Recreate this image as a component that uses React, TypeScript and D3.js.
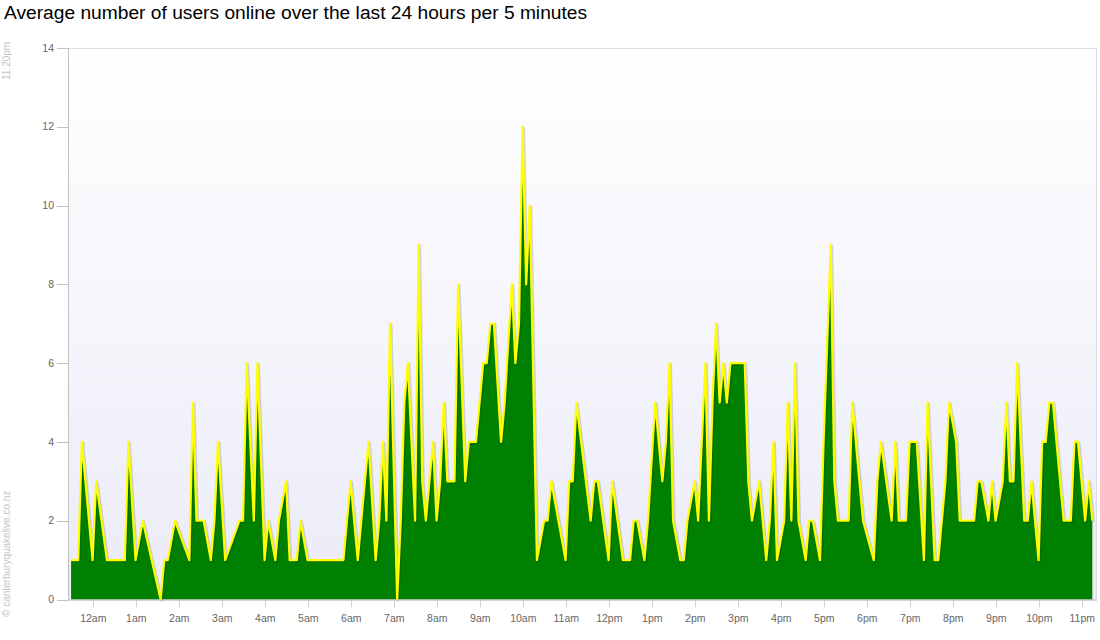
import React from 'react';
import * as d3 from 'd3';

const chartTitle = 'Average number of users online over the last 24 hours per 5 minutes';
const stampLabel = '11:20pm';
const creditLabel = '© canterburyquakelive.co.nz';

// first sample at 11:29pm the previous day (minutes relative to midnight)
const firstSampleMinute = -31;
const slotMinutes = 5;

// 5-minute slot index of each vertex of the series
const slots = [
  0, 2, 3, 6, 7, 10, 15, 16, 18, 20, 25, 26, 27, 29, 33, 34, 35, 37, 39, 40,
  41, 43, 47, 48, 49, 51, 52, 54, 55, 57, 58, 60, 61, 63, 64, 66, 76, 77, 78, 80,
  81, 83, 85, 86, 87, 88, 89, 91, 92, 93, 94, 96, 97, 98, 99, 101, 102, 103, 104, 105,
  107, 108, 110, 111, 113, 114, 115, 116, 117, 118, 120, 121, 123, 124, 125, 126, 127, 128, 130, 132,
  133, 134, 138, 139, 140, 141, 145, 146, 147, 150, 151, 154, 156, 157, 158, 160, 161, 163, 165, 166,
  167, 168, 170, 171, 172, 174, 175, 177, 178, 179, 180, 181, 182, 183, 184, 188, 189, 190, 192, 193,
  194, 195, 196, 197, 199, 200, 201, 202, 203, 205, 206, 207, 209, 210, 212, 213, 214, 217, 218, 219,
  221, 224, 225, 226, 229, 230, 231, 233, 234, 236, 238, 239, 241, 242, 244, 245, 247, 248, 252, 253,
  254, 256, 257, 258, 260, 261, 262, 263, 264, 266, 267, 268, 270, 271, 272, 273, 274, 277, 279, 280,
  281, 283, 284, 285,
];

// average users online at each vertex
const users = [
  1, 1, 4, 1, 3, 1, 1, 4, 1, 2, 0, 1, 1, 2, 1, 5, 2, 2, 1, 2,
  4, 1, 2, 2, 6, 2, 6, 1, 2, 1, 2, 3, 1, 1, 2, 1, 1, 2, 3, 1,
  2, 4, 1, 2, 4, 2, 7, 0, 2, 5, 6, 2, 9, 3, 2, 4, 2, 3, 5, 3,
  3, 8, 3, 4, 4, 5, 6, 6, 7, 7, 4, 5, 8, 6, 7, 12, 8, 10, 1, 2,
  2, 3, 1, 3, 3, 5, 2, 3, 3, 1, 3, 1, 1, 2, 2, 1, 2, 5, 3, 4,
  6, 2, 1, 1, 2, 3, 2, 6, 2, 5, 7, 5, 6, 5, 6, 6, 3, 2, 3, 2,
  1, 2, 4, 1, 2, 5, 2, 6, 2, 1, 2, 2, 1, 4, 9, 3, 2, 2, 5, 4,
  2, 1, 3, 4, 2, 4, 2, 2, 4, 4, 1, 5, 1, 1, 3, 5, 4, 2, 2, 3,
  3, 2, 3, 2, 3, 5, 3, 3, 6, 2, 2, 3, 1, 4, 4, 5, 5, 2, 2, 4,
  4, 2, 3, 2,
];

const yTicks = [0, 2, 4, 6, 8, 10, 12, 14];
const hourLabels = [
  '12am', '1am', '2am', '3am', '4am', '5am', '6am', '7am', '8am', '9am', '10am', '11am',
  '12pm', '1pm', '2pm', '3pm', '4pm', '5pm', '6pm', '7pm', '8pm', '9pm', '10pm', '11pm',
];

type Pt = { m: number; v: number };

export default function App() {
  const W = 1100;
  const H = 640;
  const left = 68;
  const right = 1097;
  const top = 48;
  const bottom = 599.5;
  const font = "'Liberation Sans', Arial, sans-serif";

  const x = d3.scaleLinear().domain([-35.3, 1400.5]).range([left, right]);
  const y = d3.scaleLinear().domain([0, 14]).range([bottom, top]);

  const pts: Pt[] = slots.map((s, i) => ({ m: firstSampleMinute + s * slotMinutes, v: users[i] }));
  const areaGen = d3
    .area<Pt>()
    .x((d) => x(d.m))
    .y0(y(0))
    .y1((d) => y(d.v));
  const lineGen = d3
    .line<Pt>()
    .x((d) => x(d.m))
    .y((d) => y(d.v));

  const hourTicks = hourLabels.map((label, i) => ({ label, m: i * 60 }));

  return (
    <svg
      width={W}
      height={H}
      style={{ position: 'absolute', left: 0, top: 0, display: 'block', background: '#fff' }}
    >
      <defs>
        <linearGradient id="plotBg" x1="0" y1="0" x2="0" y2="1">
          <stop offset="0" stopColor="#ffffff" />
          <stop offset="1" stopColor="#ebebf8" />
        </linearGradient>
      </defs>
      <text x={4} y={19} fontFamily={font} fontSize={19.2} fill="#000">
        {chartTitle}
      </text>
      <text
        transform="translate(9.5,80) rotate(-90)"
        fontFamily={font}
        fontSize={10}
        fill="#c4c4c4"
      >
        {stampLabel}
      </text>
      <text
        transform="translate(9.5,617) rotate(-90)"
        fontFamily={font}
        fontSize={10}
        fill="#c4c4c4"
      >
        {creditLabel}
      </text>

      <rect x={left} y={top} width={right - left} height={bottom - top} fill="url(#plotBg)" />
      <rect
        x={left + 0.5}
        y={top + 0.5}
        width={right - left - 1}
        height={bottom - top}
        fill="none"
        stroke="#dcdce4"
        strokeWidth={1}
      />

      {yTicks.map((t) => (
        <g key={t}>
          <line x1={57} x2={left} y1={Math.round(y(t)) + 0.5} y2={Math.round(y(t)) + 0.5} stroke="#c0c0c0" />
          <text
            x={54}
            y={y(t)}
            dy="0.35em"
            textAnchor="end"
            fontFamily={font}
            fontSize={10.5}
            fill="#666"
          >
            {t}
          </text>
        </g>
      ))}

      <path d={areaGen(pts) || ''} fill="#008000" />
      <path
        d={lineGen(pts) || ''}
        fill="none"
        stroke="rgba(0,0,0,0.15)"
        strokeWidth={3}
        transform="translate(1,1)"
        strokeLinejoin="round"
      />
      <path d={lineGen(pts) || ''} fill="none" stroke="#ffff00" strokeWidth={2.2} strokeLinejoin="round" />

      <line x1={left + 0.5} x2={left + 0.5} y1={top} y2={bottom + 0.5} stroke="#c0c0c0" />
      <line x1={left} x2={right} y1={bottom + 0.5} y2={bottom + 0.5} stroke="#c0c0c0" />

      {hourTicks.map((t) => (
        <g key={t.label}>
          <line
            x1={Math.round(x(t.m)) + 0.5}
            x2={Math.round(x(t.m)) + 0.5}
            y1={bottom}
            y2={bottom + 8}
            stroke="#d0d0d0"
          />
          <text
            x={x(t.m)}
            y={622}
            textAnchor="middle"
            fontFamily={font}
            fontSize={10.5}
            fill="#666"
          >
            {t.label}
          </text>
        </g>
      ))}
    </svg>
  );
}
